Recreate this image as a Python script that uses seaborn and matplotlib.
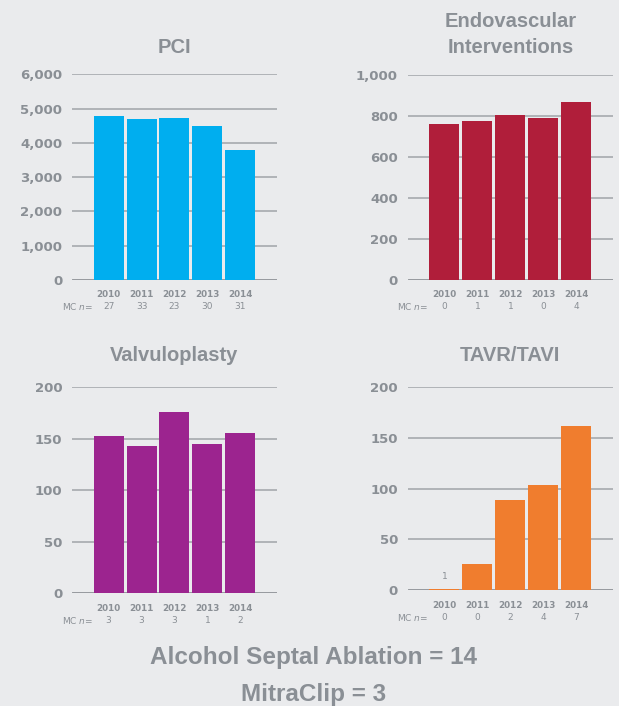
import matplotlib
matplotlib.use("Agg")
import matplotlib.pyplot as plt
import matplotlib.transforms as mtransforms
from matplotlib.ticker import FuncFormatter
import seaborn as sns
import pandas as pd

years = ["2010", "2011", "2012", "2013", "2014"]

pci = [4790, 4700, 4730, 4490, 3790]
pci_mc = [27, 33, 23, 30, 31]
endo = [760, 774, 804, 789, 867]
endo_mc = [0, 1, 1, 0, 4]
valv = [153, 143, 176, 145, 155]
valv_mc = [3, 3, 3, 1, 2]
tavr = [1, 26, 89, 103, 162]
tavr_mc = [0, 0, 2, 4, 7]

footer = ["Alcohol Septal Ablation = 14", "MitraClip = 3"]

bg = "#EAEBED"
txt = "#8A8F95"
grid_c = "#A0A4A8"
axis_c = "#8E9297"

sns.set_style("white", {"axes.facecolor": bg, "figure.facecolor": bg})
plt.rcParams["font.family"] = ["DejaVu Sans"]

fig = plt.figure(figsize=(6.19, 7.06), dpi=100)
fig.patch.set_facecolor(bg)

panels = [
    ("PCI", pci, pci_mc, "#00AEEF", [0, 1000, 2000, 3000, 4000, 5000, 6000],
     [0.1163, 0.6034, 0.3312, 0.2914], 15.5),
    ("Endovascular\nInterventions", endo, endo_mc, "#B01E3A", [0, 200, 400, 600, 800, 1000],
     [0.6587, 0.6034, 0.3316, 0.2908], 15.5),
    ("Valvuloplasty", valv, valv_mc, "#9C248F", [0, 50, 100, 150, 200],
     [0.1163, 0.1596, 0.3312, 0.2922], 18.5),
    ("TAVR/TAVI", tavr, tavr_mc, "#F07D2E", [0, 50, 100, 150, 200],
     [0.6587, 0.1643, 0.3316, 0.2875], 18.5),
]

for title, vals, mc, color, ticks, rect, pad in panels:
    ax = fig.add_axes(rect)
    df = pd.DataFrame({"year": years, "value": vals})
    for t in ticks[1:]:
        ax.axhline(t, color=grid_c, lw=1.1, zorder=0)
    ax.axhline(0, color=axis_c, lw=2, zorder=1)
    sns.barplot(data=df, x="year", y="value", color=color, width=0.91,
                saturation=1, linewidth=0, ax=ax, zorder=2)
    ax.set_ylim(0, ticks[-1])
    ax.set_xlim(-1.11, 5.11)
    ax.set_yticks(ticks)
    ax.yaxis.set_major_formatter(FuncFormatter(lambda v, p: f"{int(v):,}"))
    ax.tick_params(axis="y", length=0, pad=7, labelsize=9.5, labelcolor=txt)
    for lab in ax.get_yticklabels():
        lab.set_fontweight("bold")
    ax.set_xticks([])
    ax.set_xlabel("")
    ax.set_ylabel("")
    for s in ax.spines.values():
        s.set_visible(False)
    ax.set_title(title, fontsize=14.5, fontweight="bold", color=txt, pad=pad,
                 family="Liberation Sans", linespacing=1.45)

    # year row and MC n= row under the axis
    off1 = mtransforms.offset_copy(ax.get_xaxis_transform(), fig=fig, x=0, y=-15, units="dots")
    off2 = mtransforms.offset_copy(ax.get_xaxis_transform(), fig=fig, x=0, y=-27, units="dots")
    for i, (y, n) in enumerate(zip(years, mc)):
        ax.text(i, 0, y, transform=off1, ha="center", va="center", fontsize=6.3,
                fontweight="bold", color=txt)
        ax.text(i, 0, str(n), transform=off2, ha="center", va="center", fontsize=6.5,
                color=txt)
    ax.text(-0.48, 0, r"MC $\it{n}$=", transform=off2, ha="right", va="center",
            fontsize=6.5, color=txt)

    if title == "TAVR/TAVI":
        ax.text(0, vals[0] + 8, str(vals[0]), ha="center", va="bottom",
                fontsize=6.5, color=txt)

fig.text(0.506, 0.068, footer[0], ha="center", va="center", fontsize=17.5,
         fontweight="bold", color=txt, family="Liberation Sans")
fig.text(0.506, 0.016, footer[1], ha="center", va="center", fontsize=17.5,
         fontweight="bold", color=txt, family="Liberation Sans")

fig.savefig("out.png", dpi=100, facecolor=bg)
